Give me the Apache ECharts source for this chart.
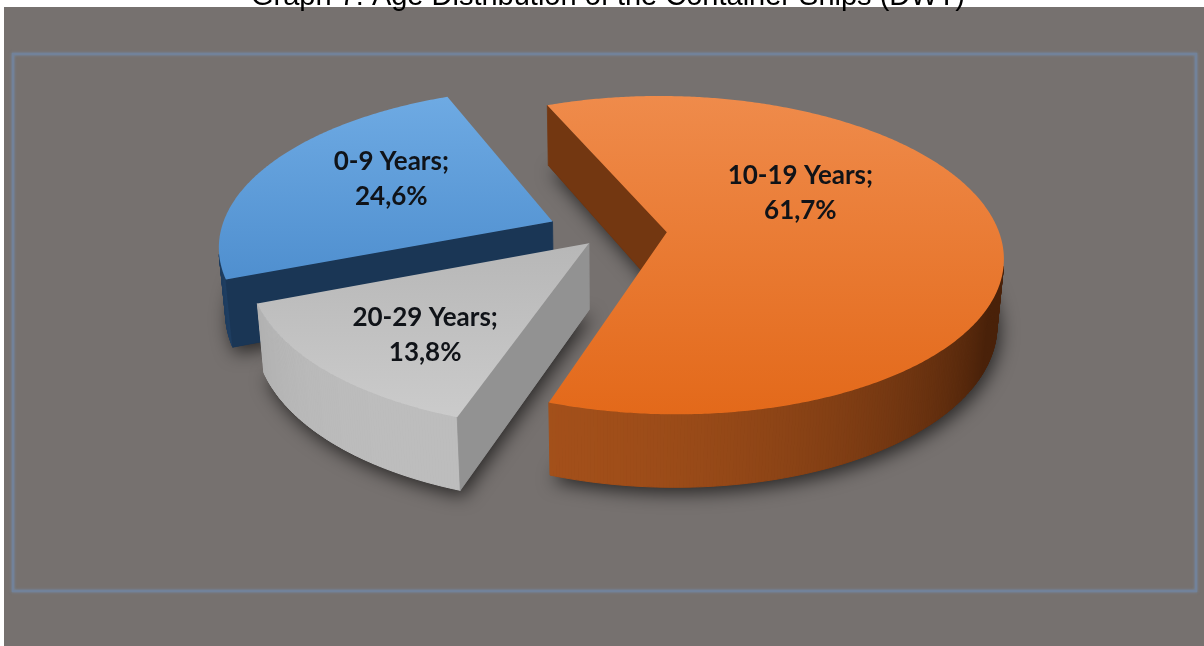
<!DOCTYPE html>
<html>
<head>
<meta charset="utf-8">
<script src="https://cdn.jsdelivr.net/npm/echarts@6/dist/echarts.min.js"></script>
<style>
  html, body { margin: 0; padding: 0; background: #ffffff; }
  #chart { width: 1204px; height: 646px; }
</style>
</head>
<body>
<div id="chart"></div>
<script>
// ---- data ----
const titleText = 'Graph 7: Age Distribution of the Container Ships (DWT)';
const categories = ['0-9 Years', '10-19 Years', '20-29 Years'];
const shares = [24.6, 61.7, 13.8];

// ---- appearance of each slice (same order as categories) ----
const sliceStyles = [
  { top: ['#6eaae3', '#4f8fcf'], sideLight: '#24476e', sideDark: '#142a44', explode: 0.19,  labelTurn: 6,   labelRadius: 0.60 },
  { top: ['#ef8b4b', '#e3691a'], sideLight: '#a4501a', sideDark: '#4a220a', explode: 0.171, labelTurn: -30, labelRadius: 0.49 },
  { top: ['#b7b7b7', '#cbcbcb'], sideLight: '#bdbdbd', sideDark: '#929292', explode: 0.09,  labelTurn: -4,  labelRadius: 0.70 }
];

// ---- 3D view of the pie (unit radius disk, angles clockwise from the far side) ----
const view = { cx: 610, cy: 233, focal: 2035, distance: 6.12, tilt: 28, thickness: 0.228, firstAngle: 248.9 };

const rad = Math.PI / 180;
const sa = Math.sin(view.tilt * rad), ca = Math.cos(view.tilt * rad);
const camera = [0, view.distance * sa, view.distance * ca];
const light = (function () { const v = [-0.45, 0, 0.9]; const l = Math.hypot(v[0], v[1], v[2]); return v.map(c => c / l); })();
const total = shares.reduce((s, v) => s + v, 0);

function project(X, Y, Z) {
  const d = view.distance - (Y * sa + Z * ca);
  return [view.cx + view.focal * X / d, view.cy - view.focal * (Y * ca - Z * sa) / d];
}
function hexToRgb(h) { const n = parseInt(h.slice(1), 16); return [(n >> 16) & 255, (n >> 8) & 255, n & 255]; }
function mix(c1, c2, t) {
  const a = hexToRgb(c1), b = hexToRgb(c2);
  const r = a.map((v, k) => Math.round(v + (b[k] - v) * t));
  return 'rgb(' + r.join(',') + ')';
}
function sliceAngles(i) {
  let before = 0;
  for (let k = 0; k < i; k++) before += shares[k];
  const a0 = view.firstAngle + 360 * before / total;
  return [a0, a0 + 360 * shares[i] / total];
}
// drawing order: far slices first
const depthRank = (function () {
  const depth = shares.map((v, i) => { const a = sliceAngles(i); const m = (a[0] + a[1]) / 2 * rad; return -Math.cos(m); });
  const order = depth.map((d, i) => i).sort((p, q) => depth[p] - depth[q]);
  const rank = []; order.forEach((idx, r) => { rank[idx] = r; });
  return rank;
})();

function formatShare(v) { return v.toFixed(1).replace('.', ',') + '%'; }

function renderSlice(params, api) {
  const i = api.value(0);
  const st = sliceStyles[i];
  const ang = sliceAngles(i);
  const a0 = ang[0] * rad, a1 = ang[1] * rad, m = (a0 + a1) / 2;
  const ox = st.explode * Math.sin(m), oz = -st.explode * Math.cos(m);
  const H = view.thickness;
  const rim = (t, Y) => project(ox + Math.sin(t), Y, oz - Math.cos(t));
  const apex = (Y) => project(ox, Y, oz);
  const base = 10 + depthRank[i] * 10;
  const children = [];

  const steps = Math.ceil((ang[1] - ang[0]) / 0.5);
  const topPts = [apex(0)], botPts = [apex(-H)];
  for (let k = 0; k <= steps; k++) {
    const t = a0 + (a1 - a0) * k / steps;
    topPts.push(rim(t, 0));
    botPts.push(rim(t, -H));
  }

  // soft shadow cast by the slice
  children.push({ type: 'polygon', z2: 0, shape: { points: botPts },
    style: { fill: st.sideDark, shadowBlur: 18, shadowColor: 'rgba(0,0,0,0.65)', shadowOffsetX: 3, shadowOffsetY: 6 } });

  const facing = (n, p) => (n[0] * (camera[0] - p[0]) + n[1] * (camera[1] - p[1]) + n[2] * (camera[2] - p[2])) > 0;
  const shade = (n) => Math.max(0, Math.min(1, n[0] * light[0] + n[1] * light[1] + n[2] * light[2]));

  // outer curved wall
  for (let k = 0; k < steps; k++) {
    const t0 = a0 + (a1 - a0) * k / steps, t1 = a0 + (a1 - a0) * (k + 1) / steps, tm = (t0 + t1) / 2;
    const n = [Math.sin(tm), 0, -Math.cos(tm)];
    const p = [ox + Math.sin(tm), -H / 2, oz - Math.cos(tm)];
    if (!facing(n, p)) continue;
    const c = mix(st.sideDark, st.sideLight, shade(n));
    children.push({ type: 'polygon', z2: base + 1,
      shape: { points: [rim(t0, 0), rim(t1, 0), rim(t1, -H), rim(t0, -H)] },
      style: { fill: c, stroke: c, lineWidth: 1 } });
  }
  // flat radial faces at both ends of the slice
  [[a0, -1], [a1, 1]].forEach(function (e) {
    const t = e[0], s = e[1];
    const n = [s * Math.cos(t), 0, s * Math.sin(t)];
    const p = [ox + 0.5 * Math.sin(t), -H / 2, oz - 0.5 * Math.cos(t)];
    if (!facing(n, p)) return;
    const c = mix(st.sideDark, st.sideLight, 0.6 * shade(n));
    children.push({ type: 'polygon', z2: base + 1,
      shape: { points: [apex(0), rim(t, 0), rim(t, -H), apex(-H)] },
      style: { fill: c, stroke: c, lineWidth: 0.8 } });
  });
  // top face
  children.push({ type: 'polygon', z2: base + 2, shape: { points: topPts },
    style: { fill: new echarts.graphic.LinearGradient(0, 0, 0, 1, [
      { offset: 0, color: st.top[0] }, { offset: 1, color: st.top[1] }]) } });

  // data label on the top face
  const lt = m + st.labelTurn * rad, lr = st.labelRadius;
  const lp = project(ox + lr * Math.sin(lt), 0, oz - lr * Math.cos(lt));
  children.push({ type: 'text', z2: base + 5,
    style: { text: categories[i] + ';\n' + formatShare(api.value(1)), x: lp[0] + 2, y: lp[1],
      align: 'center', verticalAlign: 'middle', fill: '#101318',
      font: 'bold 26px Lato', lineHeight: 35 } });

  return { type: 'group', children: children };
}

const chart = echarts.init(document.getElementById('chart'), null, { renderer: 'canvas' });
chart.setOption({
  backgroundColor: '#ffffff',
  animation: false,
  graphic: [
    { type: 'text', z: -2, style: { text: titleText, x: 608, y: -18, align: 'center', verticalAlign: 'top',
      font: '29px "Liberation Sans"', fill: '#000000' } },
    { type: 'rect', z: -3, shape: { x: 4, y: 7, width: 1200, height: 639 }, style: { fill: '#76716f' } },
    { type: 'rect', z: -1, shape: { x: 13, y: 54, width: 1183, height: 537 },
      style: { fill: 'none', stroke: '#72829a', lineWidth: 2.5, shadowBlur: 3, shadowColor: 'rgba(120,140,165,0.8)' } }
  ],
  series: [{
    type: 'custom',
    coordinateSystem: 'none',
    silent: true,
    data: categories.map((c, i) => [i, shares[i]]),
    renderItem: renderSlice
  }]
});
</script>
</body>
</html>
